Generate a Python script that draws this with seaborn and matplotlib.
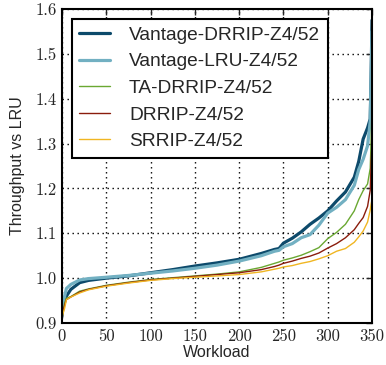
import numpy as np
import pandas as pd
import matplotlib
matplotlib.use("Agg")
import matplotlib.pyplot as plt
import seaborn as sns

workload = [0, 1, 3, 5, 10, 20, 30, 50, 75, 100, 125, 150, 175, 200, 225, 240, 245,
            250, 260, 270, 280, 290, 300, 310, 320, 330, 335, 340, 345, 348, 349, 350]

vantage_drrip = [0.915, 0.935, 0.955, 0.960, 0.975, 0.990, 0.995, 1.000, 1.005, 1.012,
                 1.019, 1.027, 1.034, 1.042, 1.055, 1.064, 1.066, 1.078, 1.089, 1.103,
                 1.120, 1.134, 1.150, 1.172, 1.192, 1.225, 1.260, 1.310, 1.335, 1.355,
                 1.450, 1.575]
vantage_lru = [0.920, 0.945, 0.960, 0.977, 0.986, 0.996, 0.999, 1.002, 1.006, 1.011,
               1.016, 1.022, 1.029, 1.038, 1.050, 1.060, 1.062, 1.070, 1.077, 1.090,
               1.097, 1.118, 1.145, 1.158, 1.175, 1.207, 1.242, 1.265, 1.295, 1.350,
               1.450, 1.550]
ta_drrip = [0.912, 0.925, 0.945, 0.955, 0.959, 0.971, 0.976, 0.984, 0.991, 0.997,
            1.001, 1.005, 1.009, 1.014, 1.024, 1.033, 1.036, 1.040, 1.045, 1.051,
            1.059, 1.068, 1.088, 1.102, 1.120, 1.150, 1.175, 1.195, 1.210, 1.245,
            1.310, 1.380]
drrip = [0.912, 0.925, 0.940, 0.952, 0.958, 0.969, 0.975, 0.983, 0.990, 0.996,
         1.000, 1.004, 1.008, 1.012, 1.019, 1.026, 1.029, 1.033, 1.038, 1.044,
         1.049, 1.056, 1.067, 1.077, 1.090, 1.108, 1.122, 1.135, 1.160, 1.196,
         1.260, 1.300]
srrip = [0.910, 0.920, 0.933, 0.952, 0.958, 0.967, 0.974, 0.982, 0.989, 0.995,
         0.999, 1.002, 1.005, 1.008, 1.014, 1.020, 1.022, 1.025, 1.028, 1.033,
         1.037, 1.043, 1.050, 1.060, 1.066, 1.080, 1.092, 1.105, 1.125, 1.152,
         1.165, 1.175]

series_names = ["Vantage-DRRIP-Z4/52", "Vantage-LRU-Z4/52", "TA-DRRIP-Z4/52",
                "DRRIP-Z4/52", "SRRIP-Z4/52"]
series_values = [vantage_drrip, vantage_lru, ta_drrip, drrip, srrip]
colors = ["#0d4a6b", "#72b0c2", "#6aa832", "#8a1c0c", "#f0b622"]
widths = [2.3, 2.3, 1.0, 1.0, 1.0]

xticks = [0, 50, 100, 150, 200, 250, 300, 350]
yticks = [0.9, 1.0, 1.1, 1.2, 1.3, 1.4, 1.5, 1.6]

sns.set_style("white")
plt.rcParams["font.family"] = ["Liberation Sans", "DejaVu Sans"]

fig = plt.figure(figsize=(3.86, 3.65), dpi=100)
ax = fig.add_axes([62 / 386, 1 - 323 / 365, 310 / 386, 314 / 365])

for name, vals, c, lw in zip(series_names, series_values, colors, widths):
    df = pd.DataFrame({"Workload": workload, "Throughput": vals})
    sns.lineplot(data=df, x="Workload", y="Throughput", color=c, linewidth=lw,
                 label=name, ax=ax, sort=False)

ax.set_xlim(0, 350)
ax.set_ylim(0.9, 1.6)
ax.set_xticks(xticks)
ax.set_yticks(yticks)
ax.set_xlabel("Workload", fontsize=11.5, labelpad=1)
ax.set_ylabel("Throughput vs LRU", fontsize=11.5, labelpad=7)
ax.tick_params(axis="both", which="major", direction="in", top=True, right=True,
               length=4, width=1, labelsize=12, labelfontfamily="cmr10", pad=4)
ax.grid(True, color="black", linestyle=(0, (1, 2.6)), linewidth=1)
for s in ax.spines.values():
    s.set_color("black")
    s.set_linewidth(1.5)

leg = ax.legend(loc="upper left", fontsize=13.8, frameon=True, fancybox=False,
                edgecolor="black", framealpha=1, borderaxespad=0.5,
                handlelength=1.6, handletextpad=1.0, labelspacing=0.48,
                borderpad=0.4)
leg.get_frame().set_linewidth(1.5)

fig.savefig("out.png", dpi=100)
